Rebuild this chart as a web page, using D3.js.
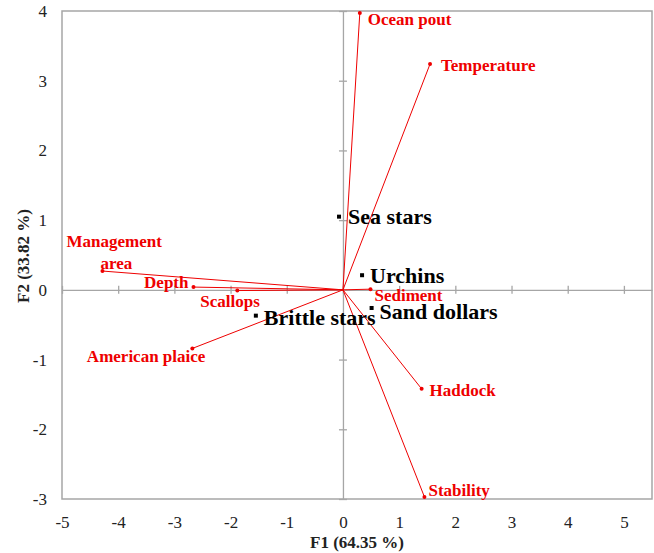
<!DOCTYPE html>
<html>
<head>
<meta charset="utf-8">
<script src="https://cdn.jsdelivr.net/npm/d3@7"></script>
<style>
  body { margin: 0; background: #fff; }
  text { font-family: "Liberation Serif", "DejaVu Serif", serif; }
</style>
</head>
<body>
<div id="chart"></div>
<script>
// variables (red vectors)
const varNames = ["Ocean pout", "Temperature", "Management area", "Depth", "Scallops",
  "American plaice", "Sediment", "Haddock", "Stability"];
const varF1 = [0.30, 1.55, -4.28, -2.66, -1.88, -2.68, 0.49, 1.40, 1.45];
const varF2 = [3.97, 3.24, 0.27, 0.04, -0.01, -0.84, 0.01, -1.42, -2.97];

// observations (black squares)
const obsNames = ["Sea stars", "Urchins", "Sand dollars", "Brittle stars"];
const obsF1 = [-0.07, 0.34, 0.51, -1.55];
const obsF2 = [1.05, 0.21, -0.26, -0.37];

const xTicks = [-5, -4, -3, -2, -1, 0, 1, 2, 3, 4, 5];
const yTicks = [-3, -2, -1, 0, 1, 2, 3, 4];

// label offsets in px (dx, dy, anchor)
const varLabelPos = {
  "Ocean pout": [8, 6, "start"],
  "Temperature": [11, 1, "start"],
  "Depth": [-5, -5, "end"],
  "Scallops": [-37, 10, "start"],
  "American plaice": [13, 8, "end"],
  "Sediment": [4, 6, "start"],
  "Haddock": [8, 1, "start"],
  "Stability": [4, -7, "start"]
};
const obsLabelPos = {
  "Sea stars": [9, 0],
  "Urchins": [8, 0],
  "Sand dollars": [8, 3],
  "Brittle stars": [8, 2]
};

const margin = { top: 11, right: 2, bottom: 54, left: 62 },
  width = 654 - margin.left - margin.right,
  height = 553 - margin.top - margin.bottom;

const svg = d3.select("#chart").append("svg")
  .attr("width", 654)
  .attr("height", 553)
  .append("g")
  .attr("transform", `translate(${margin.left},${margin.top})`);

const x = d3.scaleLinear().domain([-5, 5.5]).range([0, width]);
const y = d3.scaleLinear().domain([-3, 4]).range([height, 0]);

const gray = "#a6a6a6";
const red = "#ee0000";

// frame
svg.append("rect")
  .attr("width", width)
  .attr("height", height)
  .attr("fill", "none")
  .attr("stroke", gray)
  .attr("stroke-width", 1.5);

// zero axes with cross ticks
svg.append("g")
  .attr("transform", `translate(0,${y(0)})`)
  .call(d3.axisBottom(x).tickValues(xTicks).tickSizeInner(4).tickSizeOuter(0).tickFormat(""))
  .call(g => g.selectAll(".tick line").attr("y1", -4))
  .call(g => g.selectAll("path, line").attr("stroke", gray).attr("stroke-width", 1.3));

svg.append("g")
  .attr("transform", `translate(${x(0)},0)`)
  .call(d3.axisLeft(y).tickValues(yTicks).tickSizeInner(4).tickSizeOuter(0).tickFormat(""))
  .call(g => g.selectAll(".tick line").attr("x1", 4))
  .call(g => g.selectAll("path, line").attr("stroke", gray).attr("stroke-width", 1.3));

// tick labels on the frame (plain hyphen for minus)
const xLab = svg.append("g")
  .attr("transform", `translate(0,${height})`)
  .call(d3.axisBottom(x).tickValues(xTicks).tickSize(0).tickPadding(17).tickFormat(d => String(d)));
xLab.select(".domain").remove();
xLab.selectAll("text")
  .style("font-family", "Liberation Serif, serif")
  .style("font-size", "17px")
  .attr("fill", "#222");

const yLab = svg.append("g")
  .call(d3.axisLeft(y).tickValues(yTicks).tickSize(0).tickPadding(15).tickFormat(d => String(d)));
yLab.select(".domain").remove();
yLab.selectAll("text")
  .style("font-family", "Liberation Serif, serif")
  .style("font-size", "17px")
  .attr("fill", "#222");

// vectors
const vars = varNames.map((n, i) => ({ name: n, f1: varF1[i], f2: varF2[i] }));

svg.append("g")
  .selectAll("line")
  .data(vars)
  .join("line")
  .attr("x1", x(0))
  .attr("y1", y(0))
  .attr("x2", d => x(d.f1))
  .attr("y2", d => y(d.f2))
  .attr("stroke", red)
  .attr("stroke-width", 1);

svg.append("g")
  .selectAll("circle")
  .data(vars)
  .join("circle")
  .attr("cx", d => x(d.f1))
  .attr("cy", d => y(d.f2))
  .attr("r", 2)
  .attr("fill", red);

svg.append("g")
  .selectAll("text")
  .data(vars.filter(d => d.name !== "Management area"))
  .join("text")
  .attr("x", d => x(d.f1) + varLabelPos[d.name][0])
  .attr("y", d => y(d.f2) + varLabelPos[d.name][1])
  .attr("dy", "0.35em")
  .attr("text-anchor", d => varLabelPos[d.name][2])
  .attr("fill", red)
  .style("font-size", "17px")
  .style("font-weight", "bold")
  .text(d => d.name);

// Management area label on two lines
const mg = vars.find(d => d.name === "Management area");
const mgText = svg.append("text")
  .attr("fill", red)
  .style("font-size", "17px")
  .style("font-weight", "bold");
mgText.append("tspan")
  .attr("x", x(mg.f1) - 36)
  .attr("y", y(mg.f2) - 30)
  .attr("dy", "0.35em")
  .text("Management");
mgText.append("tspan")
  .attr("x", x(mg.f1) - 2)
  .attr("y", y(mg.f2) - 8)
  .attr("dy", "0.35em")
  .text("area");

// observations
const obs = obsNames.map((n, i) => ({ name: n, f1: obsF1[i], f2: obsF2[i] }));

svg.append("g")
  .selectAll("rect")
  .data(obs)
  .join("rect")
  .attr("x", d => x(d.f1) - 2)
  .attr("y", d => y(d.f2) - 2)
  .attr("width", 4)
  .attr("height", 4)
  .attr("fill", "#000");

svg.append("g")
  .selectAll("text")
  .data(obs)
  .join("text")
  .attr("x", d => x(d.f1) + obsLabelPos[d.name][0])
  .attr("y", d => y(d.f2) + obsLabelPos[d.name][1])
  .attr("dy", "0.35em")
  .attr("fill", "#000")
  .style("font-size", "22px")
  .style("font-weight", "bold")
  .text(d => d.name);

// axis titles
svg.append("text")
  .attr("x", 357 - margin.left)
  .attr("y", 542 - margin.top)
  .attr("dy", "0.35em")
  .attr("text-anchor", "middle")
  .style("font-size", "17px")
  .style("font-weight", "bold")
  .attr("fill", "#222")
  .text("F1 (64.35 %)");

svg.append("text")
  .attr("transform", "rotate(-90)")
  .attr("x", -(256 - margin.top))
  .attr("y", 23 - margin.left)
  .attr("dy", "0.35em")
  .attr("text-anchor", "middle")
  .style("font-size", "17px")
  .style("font-weight", "bold")
  .attr("fill", "#222")
  .text("F2 (33.82 %)");
</script>
</body>
</html>
